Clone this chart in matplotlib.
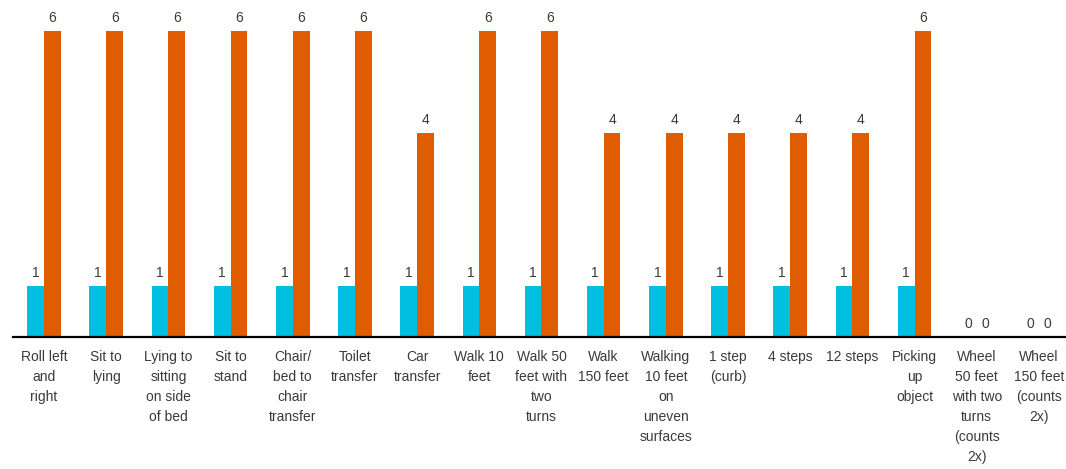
import numpy as np
import matplotlib
matplotlib.use("Agg")
import matplotlib.pyplot as plt

plt.rcParams["font.family"] = ["Liberation Sans", "DejaVu Sans"]

# ── Mobility items and scores ───────────────────────────────────────────
activities = [
    "Roll left\nand\nright",
    "Sit to\nlying",
    "Lying to\nsitting\non side\nof bed",
    "Sit to\nstand",
    "Chair/\nbed to\nchair\ntransfer",
    "Toilet\ntransfer",
    "Car\ntransfer",
    "Walk 10\nfeet",
    "Walk 50\nfeet with\ntwo\nturns",
    "Walk\n150 feet",
    "Walking\n10 feet\non\nuneven\nsurfaces",
    "1 step\n(curb)",
    "4 steps",
    "12 steps",
    "Picking\nup\nobject",
    "Wheel\n50 feet\nwith two\nturns\n(counts\n2x)",
    "Wheel\n150 feet\n(counts\n2x)",
]
score_a = [1, 1, 1, 1, 1, 1, 1, 1, 1, 1, 1, 1, 1, 1, 1, 0, 0]
score_b = [6, 6, 6, 6, 6, 6, 4, 6, 6, 4, 4, 4, 4, 4, 6, 0, 0]

CYAN = "#00BFE0"
ORANGE = "#E05C00"
TEXT = "#3A3A3A"

W, H = 1066, 469
fig = plt.figure(figsize=(W / 100, H / 100), dpi=100)
# axes run a little past the right edge so the last group is cut off
ax = fig.add_axes([13 / W, 132 / H, 1057 / W, 337 / H])

x = np.arange(len(activities))
bw = 0.27
bars_a = ax.bar(x - bw / 2, score_a, width=bw, color=CYAN)
bars_b = ax.bar(x + bw / 2, score_b, width=bw, color=ORANGE)

for bars in (bars_a, bars_b):
    ax.bar_label(bars, padding=4, fontsize=10, color=TEXT)

ax.set_xlim(-0.5, len(activities) - 0.5)
ax.set_ylim(0, 6.6)
ax.set_yticks([])
ax.set_xticks(x)
ax.set_xticklabels(activities, fontsize=10, color=TEXT,
                   linespacing=1.55, va="top")
ax.tick_params(axis="x", length=0, pad=9)

for side in ("top", "right", "left"):
    ax.spines[side].set_visible(False)
ax.spines["bottom"].set_linewidth(1.6)
ax.spines["bottom"].set_color("black")

fig.savefig("out.png", dpi=100)
